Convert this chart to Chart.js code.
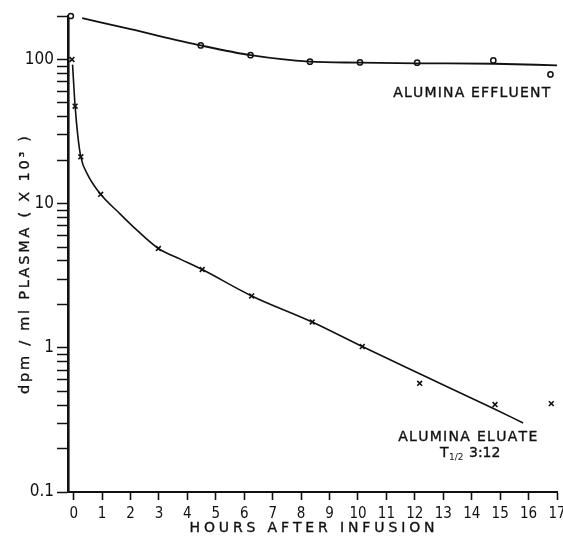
<!DOCTYPE html>
<html>
<head>
<meta charset="utf-8">
<script src="https://cdn.jsdelivr.net/npm/chart.js@4.4.1/dist/chart.umd.min.js"></script>
<style>
  html, body { margin: 0; padding: 0; background: #fff; }
  #wrap { width: 563px; height: 543px; }
</style>
</head>
<body>
<div id="wrap"><canvas id="chart" width="563" height="543"></canvas></div>
<script>
// hours after infusion / dpm per ml plasma (x 10^3)
const effluentHours  = [-0.1, 4.47, 6.22, 8.31, 10.07, 12.08, 14.76, 16.77];
const effluentValues = [200, 125, 107, 96.4, 95.3, 94.9, 98.4, 78.7];
const eluateHours  = [-0.06, 0.05, 0.25, 0.95, 2.98, 4.52, 6.26, 8.39, 10.15, 12.17, 14.82, 16.8];
const eluateValues = [100, 47.4, 21.1, 11.6, 4.88, 3.49, 2.29, 1.51, 1.02, 0.567, 0.404, 0.41];

// the hand drawn curves
const effluentCurveHours  = [0.3, 2, 4.47, 6.22, 8.3, 10.07, 12.08, 14.8, 17];
const effluentCurveValues = [193, 162, 125, 107, 96.5, 95, 94, 93.3, 91];
const eluateCurveHours  = [-0.04, 0.05, 0.14, 0.25, 0.49, 0.95, 1.62, 2.09, 2.98, 3.75, 4.52, 6.26, 8.39, 10.15, 12.17, 14.82, 15.81];
const eluateCurveValues = [92, 47.4, 30.2, 21.1, 15.9, 11.6, 8.53, 6.93, 4.88, 4.12, 3.49, 2.29, 1.51, 1.02, 0.66, 0.375, 0.301];

const xTicks = [0, 1, 2, 3, 4, 5, 6, 7, 8, 9, 10, 11, 12, 13, 14, 15, 16, 17];
const yTicks = [0.1, 0.2, 0.3, 0.4, 0.5, 0.6, 0.7, 0.8, 0.9,
                1, 2, 3, 4, 5, 6, 7, 8, 9,
                10, 20, 30, 40, 50, 60, 70, 80, 90,
                100, 200];
const yLabels = [0.1, 1, 10, 100];

const ink = '#111';
const narrow = '"DejaVu Sans Condensed", "Liberation Sans Narrow", "DejaVu Sans"';

function pts(xs, ys) {
  return xs.map((x, i) => ({ x: x, y: ys[i] }));
}

function spacedText(ctx, text, cx, cy, width, font, angle) {
  ctx.save();
  ctx.font = font;
  ctx.fillStyle = ink;
  ctx.strokeStyle = ink;
  ctx.lineWidth = 0.35;
  ctx.textAlign = 'left';
  ctx.textBaseline = 'middle';
  const chars = Array.from(text);
  let w = 0;
  chars.forEach(ch => { w += ctx.measureText(ch).width; });
  const gap = Math.max(0, (width - w) / (chars.length - 1));
  ctx.translate(cx, cy);
  ctx.rotate(angle || 0);
  let x = -width / 2;
  chars.forEach(ch => {
    ctx.fillText(ch, x, 0);
    ctx.strokeText(ch, x, 0);
    x += ctx.measureText(ch).width + gap;
  });
  ctx.restore();
}

const textPlugin = {
  id: 'texts',
  afterDraw(chart) {
    const ctx = chart.ctx;
    const xs = chart.scales.x, ys = chart.scales.y;
    spacedText(ctx, 'HOURS AFTER INFUSION', 312, 528, 245, '14px "DejaVu Sans"');
    spacedText(ctx, 'dpm / ml PLASMA ( X 10³ )', 25, 265, 258, '14.5px "DejaVu Sans"', -Math.PI / 2);

    spacedText(ctx, 'ALUMINA EFFLUENT', xs.getPixelForValue(14.0), ys.getPixelForValue(58), 157, '14px "DejaVu Sans"');
    spacedText(ctx, 'ALUMINA ELUATE', xs.getPixelForValue(13.86), ys.getPixelForValue(0.24), 139, '14px "DejaVu Sans"');

    // T1/2 3:12
    const ty = ys.getPixelForValue(0.186);
    ctx.save();
    ctx.fillStyle = ink;
    ctx.strokeStyle = ink;
    ctx.lineWidth = 0.35;
    ctx.textBaseline = 'middle';
    ctx.textAlign = 'left';
    ctx.font = '14px "DejaVu Sans"';
    ctx.fillText('T', 440, ty);
    ctx.strokeText('T', 440, ty);
    ctx.fillText('3:12', 469, ty);
    ctx.strokeText('3:12', 469, ty);
    ctx.font = '9px "DejaVu Sans"';
    ctx.fillText('1/2', 449, ty + 5);
    ctx.restore();
  }
};

function fixWidth(w) {
  return function (scale) {
    scale.width = w;
    scale.paddingTop = 0; scale.paddingBottom = 0;
    scale.paddingLeft = 0; scale.paddingRight = 0;
  };
}
function fixHeight(h) {
  return function (scale) {
    scale.height = h;
    scale.paddingTop = 0; scale.paddingBottom = 0;
    scale.paddingLeft = 0; scale.paddingRight = 0;
  };
}

new Chart(document.getElementById('chart'), {
  type: 'scatter',
  data: {
    datasets: [
      {
        label: 'effluent curve',
        data: pts(effluentCurveHours, effluentCurveValues),
        showLine: true, pointRadius: 0,
        borderColor: ink, borderWidth: 1.8,
        cubicInterpolationMode: 'monotone', clip: false
      },
      {
        label: 'eluate curve',
        data: pts(eluateCurveHours, eluateCurveValues),
        showLine: true, pointRadius: 0,
        borderColor: ink, borderWidth: 1.6,
        cubicInterpolationMode: 'monotone', clip: false
      },
      {
        label: 'ALUMINA EFFLUENT',
        data: pts(effluentHours, effluentValues),
        pointStyle: 'circle', pointRadius: 2.6,
        pointBackgroundColor: '#fff', pointBorderColor: ink, pointBorderWidth: 1.5,
        clip: false
      },
      {
        label: 'ALUMINA ELUATE',
        data: pts(eluateHours, eluateValues),
        pointStyle: 'crossRot', pointRadius: 3.4,
        pointBorderColor: ink, pointBorderWidth: 1.6,
        clip: false
      }
    ]
  },
  options: {
    responsive: false,
    animation: false,
    layout: { padding: { top: 16, right: 6, left: 0, bottom: 0 } },
    plugins: { legend: { display: false }, tooltip: { enabled: false } },
    scales: {
      x: {
        type: 'linear',
        min: -0.2, max: 17,
        afterBuildTicks: scale => { scale.ticks = xTicks.map(v => ({ value: v })); },
        afterFit: fixHeight(51),
        border: { display: true, color: ink, width: 2 },
        grid: { drawOnChartArea: false, drawTicks: true, tickLength: 8, tickWidth: 1.6, color: ink },
        ticks: {
          color: ink, padding: 5, maxRotation: 0, autoSkip: false,
          font: { family: narrow, size: 15 },
          callback: v => String(v)
        }
      },
      y: {
        type: 'logarithmic',
        min: 0.1, max: 200,
        afterBuildTicks: scale => { scale.ticks = yTicks.map(v => ({ value: v })); },
        afterFit: fixWidth(68),
        border: { display: true, color: ink, width: 2.6 },
        grid: { drawOnChartArea: false, drawTicks: true, tickLength: 11, tickWidth: 1.5, color: ink },
        ticks: {
          color: ink, padding: 3, autoSkip: false,
          font: { family: narrow, size: 17 },
          callback: v => yLabels.includes(v) ? String(v) : ''
        }
      }
    }
  },
  plugins: [textPlugin]
});
</script>
</body>
</html>
